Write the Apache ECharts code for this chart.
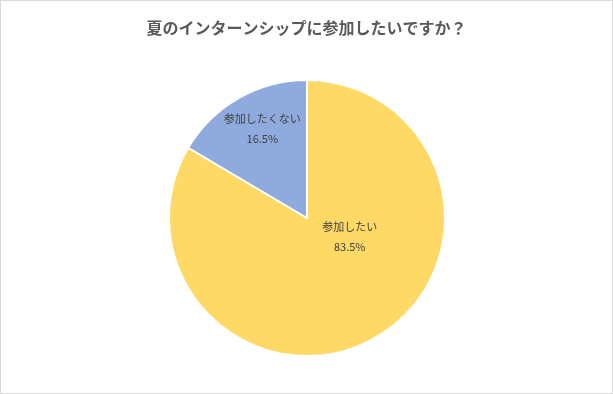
<!DOCTYPE html>
<html>
<head>
<meta charset="utf-8">
<script src="https://cdn.jsdelivr.net/npm/echarts@6/dist/echarts.min.js"></script>
<style>
html,body{margin:0;padding:0;background:#fff;}
#c{width:613px;height:394px;box-sizing:border-box;border:1px solid #D9D9D9;}
</style>
</head>
<body>
<div id="c"></div>
<script>
var titleText = '夏のインターンシップに参加したいですか？';
var categories = ['参加したい', '参加したくない'];
var values = [83.5, 16.5];
var colors = ['#FFD966', '#8FAADC'];
var labelShift = [[7, -44], [-9, -27]];

var chart = echarts.init(document.getElementById('c'));
chart.setOption({
  animation: false,
  title: {
    text: titleText,
    left: 'center',
    top: 14,
    textStyle: {fontFamily: 'Noto Sans CJK JP', fontSize: 16, fontWeight: 'bold', color: '#595959'}
  },
  series: [{
    type: 'pie',
    center: [306, 217],
    radius: 138,
    startAngle: 90,
    clockwise: true,
    data: categories.map(function (n, i) {
      return {name: n, value: values[i], itemStyle: {color: colors[i]}};
    }),
    itemStyle: {borderColor: '#fff', borderWidth: 2},
    label: {
      position: 'inside',
      formatter: function (p) { return p.name + '\n' + p.value.toFixed(1) + '%'; },
      fontFamily: 'Noto Sans CJK JP',
      fontSize: 11,
      lineHeight: 20,
      color: '#404040'
    },
    labelLine: {show: false},
    labelLayout: function (p) {
      return {dx: labelShift[p.dataIndex][0], dy: labelShift[p.dataIndex][1]};
    },
    emphasis: {disabled: true}
  }]
});
</script>
</body>
</html>
